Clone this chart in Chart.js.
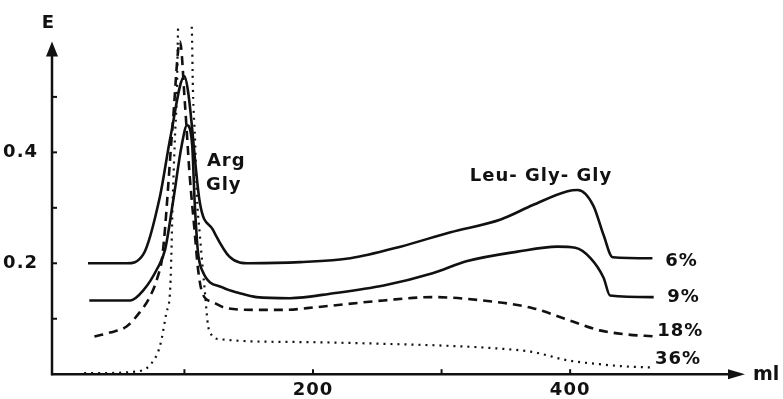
<!DOCTYPE html>
<html>
<head>
<meta charset="utf-8">
<script src="https://cdn.jsdelivr.net/npm/chart.js@4.4.1/dist/chart.umd.min.js"></script>
<style>
  html, body { margin: 0; padding: 0; background: #fff; }
  #wrap { width: 783px; height: 399px; }
</style>
</head>
<body>
<div id="wrap"><canvas id="elution"></canvas></div>
<script>
// elution curves: ml vs extinction E
const ml6  = [25, 55, 68, 81, 89, 100, 103, 112, 122, 135, 151, 190, 229, 268, 307, 346, 371, 398, 406, 418, 426, 433, 464];
const e6   = [0.200, 0.200, 0.216, 0.321, 0.426, 0.537, 0.507, 0.309, 0.261, 0.212, 0.200, 0.202, 0.209, 0.230, 0.256, 0.279, 0.305, 0.330, 0.332, 0.304, 0.251, 0.211, 0.209];

const ml9  = [26, 58, 68, 79, 85, 91, 98, 102, 106, 108, 110.5, 114, 130, 143, 156, 182, 216, 255, 293, 320, 359, 390, 404, 416, 426, 431, 465];
const e9   = [0.133, 0.133, 0.151, 0.191, 0.225, 0.309, 0.414, 0.449, 0.414, 0.309, 0.221, 0.186, 0.156, 0.146, 0.139, 0.137, 0.146, 0.160, 0.182, 0.204, 0.221, 0.230, 0.228, 0.209, 0.174, 0.142, 0.139];

const ml18 = [30, 42, 55, 65, 73, 79, 83, 91, 96.5, 100.5, 104, 108, 110.5, 114, 122, 133, 156, 177, 203, 255, 293, 332, 371, 402, 423, 443, 466];
const e18  = [0.068, 0.075, 0.086, 0.111, 0.139, 0.174, 0.216, 0.454, 0.600, 0.484, 0.361, 0.256, 0.191, 0.146, 0.130, 0.119, 0.116, 0.116, 0.121, 0.133, 0.139, 0.133, 0.119, 0.095, 0.079, 0.072, 0.068];

const ml36 = [22, 32, 63, 73, 81, 86, 89, 91, 92.6, 94.2, 95, 100, 105.8, 106.6, 108.2, 109.7, 112, 116, 118.3, 121.4, 127.6, 190, 268, 307, 346, 371, 398, 423, 443, 464];
const e36  = [0.002, 0.002, 0.005, 0.016, 0.051, 0.111, 0.156, 0.321, 0.426, 0.514, 0.619, 0.90, 0.619, 0.514, 0.426, 0.321, 0.251, 0.146, 0.089, 0.070, 0.063, 0.058, 0.054, 0.051, 0.046, 0.040, 0.025, 0.018, 0.014, 0.012];

const xTicks = [100, 200, 300, 400];
const xTickLabels = [200, 400];
const yTicks = [0.1, 0.2, 0.3, 0.4, 0.5];
const yTickLabels = [0.2, 0.4];

// text written on the figure, placed in data units (ml, E)
const notes = [
  { text: 'Arg', x: 117.5, y: 0.375 },
  { text: 'Gly', x: 116.7, y: 0.332 },
  { text: 'Leu- Gly- Gly', x: 322, y: 0.349 },
  { text: '6%', x: 474, y: 0.195 },
  { text: '9%', x: 475.5, y: 0.130 },
  { text: '18%', x: 467.7, y: 0.068 },
  { text: '36%', x: 466, y: 0.019 }
];

const INK = '#111';
const FONT = 'bold 18px "DejaVu Sans"';

function pts(xs, ys) {
  return xs.map((x, i) => ({ x: x, y: ys[i] }));
}

// axes with arrows, inward ticks and the written labels
const figurePlugin = {
  id: 'figure',
  beforeDraw(chart) {
    chart.ctx.letterSpacing = '1px';
  },
  afterDraw(chart) {
    const ctx = chart.ctx;
    const xs = chart.scales.x, ys = chart.scales.y;
    const area = chart.chartArea;
    const x0 = area.left, y0 = area.bottom;
    ctx.save();
    ctx.strokeStyle = INK;
    ctx.fillStyle = INK;
    ctx.lineWidth = 2.5;

    // y axis + arrow
    const yTop = ys.getPixelForValue(0.6);
    ctx.beginPath();
    ctx.moveTo(x0, y0 + 1);
    ctx.lineTo(x0, yTop + 10);
    ctx.stroke();
    ctx.beginPath();
    ctx.moveTo(x0, yTop);
    ctx.lineTo(x0 - 6, yTop + 15);
    ctx.lineTo(x0 + 6, yTop + 15);
    ctx.closePath();
    ctx.fill();

    // x axis + arrow
    const xEnd = area.right;
    ctx.beginPath();
    ctx.moveTo(x0 - 1, y0);
    ctx.lineTo(xEnd - 10, y0);
    ctx.stroke();
    ctx.beginPath();
    ctx.moveTo(xEnd, y0);
    ctx.lineTo(xEnd - 17, y0 - 5);
    ctx.lineTo(xEnd - 17, y0 + 5);
    ctx.closePath();
    ctx.fill();

    // inward tick marks
    ctx.lineWidth = 2;
    yTicks.forEach(v => {
      const p = ys.getPixelForValue(v);
      ctx.beginPath();
      ctx.moveTo(x0, p);
      ctx.lineTo(x0 + 5, p);
      ctx.stroke();
    });
    xTicks.forEach(v => {
      const p = xs.getPixelForValue(v);
      ctx.beginPath();
      ctx.moveTo(p, y0);
      ctx.lineTo(p, y0 - 5);
      ctx.stroke();
    });

    // axis names
    ctx.letterSpacing = '0px';
    ctx.font = 'bold 18px "DejaVu Sans"';
    ctx.textAlign = 'center';
    ctx.textBaseline = 'alphabetic';
    ctx.fillText('E', x0 - 4, 28);
    ctx.textAlign = 'left';
    ctx.font = 'bold 19px "DejaVu Sans"';
    ctx.fillText('ml', xEnd + 8, y0 + 6);

    // curve labels
    ctx.font = FONT;
    ctx.letterSpacing = '1px';
    notes.forEach(n => {
      ctx.fillText(n.text, xs.getPixelForValue(n.x), ys.getPixelForValue(n.y));
    });
    ctx.restore();
    ctx.letterSpacing = '0px';
  }
};

const ctx = document.getElementById('elution').getContext('2d');

const elutionChart = new Chart(ctx, {
  type: 'line',
  data: {
    datasets: [
      { label: '6%', data: pts(ml6, e6), borderColor: INK, borderWidth: 2.6 },
      { label: '9%', data: pts(ml9, e9), borderColor: INK, borderWidth: 2.6 },
      { label: '18%', data: pts(ml18, e18), borderColor: INK, borderWidth: 2.6, borderDash: [9, 6] },
      { label: '36%', data: pts(ml36, e36), borderColor: INK, borderWidth: 2.2, borderDash: [2, 5] }
    ]
  },
  options: {
    responsive: true,
    maintainAspectRatio: false,
    animation: false,
    layout: { padding: { top: 17, right: 38, left: 0, bottom: 0 } },
    elements: {
      point: { radius: 0 },
      line: { cubicInterpolationMode: 'monotone', fill: false }
    },
    plugins: {
      legend: { display: false },
      tooltip: { enabled: false }
    },
    scales: {
      x: {
        type: 'linear',
        min: -3,
        max: 536,
        border: { display: false },
        grid: { display: false, drawTicks: false },
        afterBuildTicks: s => { s.ticks = xTicks.map(v => ({ value: v })); },
        afterFit: s => { s.height = 23; },
        ticks: {
          padding: 5,
          color: INK,
          maxRotation: 0,
          font: { family: 'DejaVu Sans', size: 18, weight: 'bold' },
          callback: v => xTickLabels.includes(v) ? String(v) : ''
        }
      },
      y: {
        type: 'linear',
        min: 0,
        max: 0.63,
        border: { display: false },
        grid: { display: false, drawTicks: false },
        afterBuildTicks: s => { s.ticks = yTicks.map(v => ({ value: v })); },
        afterFit: s => { s.width = 52; },
        ticks: {
          padding: 14,
          color: INK,
          font: { family: 'DejaVu Sans', size: 18, weight: 'bold' },
          callback: v => yTickLabels.some(t => Math.abs(t - v) < 1e-6) ? v.toFixed(1) : ''
        }
      }
    }
  },
  plugins: [figurePlugin]
});
</script>
</body>
</html>
